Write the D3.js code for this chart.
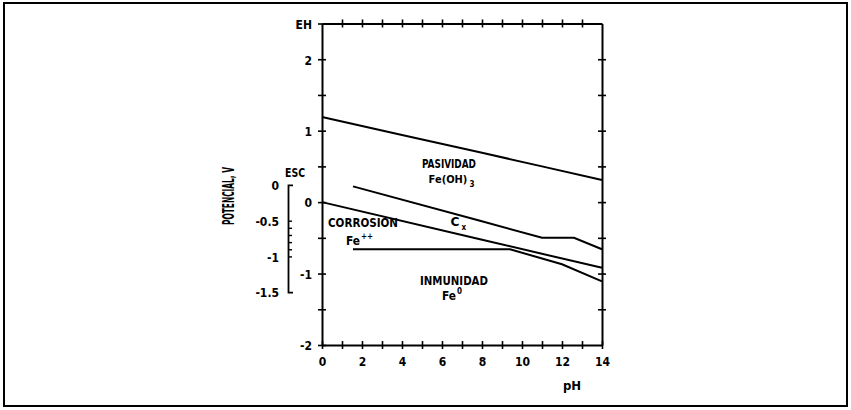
<!DOCTYPE html>
<html>
<head>
<meta charset="utf-8">
<script src="https://cdn.jsdelivr.net/npm/d3@7"></script>
<style>
  body { margin: 0; background: #fff; }
  svg text { font-family: "Liberation Sans Narrow", "DejaVu Sans Condensed", sans-serif; font-weight: bold; fill: #000; }
</style>
</head>
<body>
<div id="chart"></div>
<script>
let width = 851;
let height = 410;

// boundary lines of the Pourbaix diagram, [pH, E (V vs EH)]
let passivityLine = [[0, 1.19], [4, 0.94], [8, 0.69], [11, 0.50], [14, 0.31]];
let cxUpperLine = [[1.55, 0.22], [7.9, -0.26], [11, -0.50], [12.6, -0.50], [14, -0.66]];
let corrosionLine = [[0, 0], [7.9, -0.52], [14, -0.92]];
let immunityLine = [[1.55, -0.66], [9.4, -0.66], [12, -0.87], [14, -1.11]];

// ticks
let phTicks = d3.range(0, 15, 1);
let ehTicks = d3.range(-2, 2.51, 0.5);
let escTicks = [0, -0.5, -0.6, -0.7, -0.8, -0.9, -1, -1.5];
let escLabels = [0, -0.5, -1, -1.5];
let scOffset = 0.24; // ESC = EH - 0.24

let svg = d3.select("#chart").append("svg")
    .attr("width", width)
    .attr("height", height);

// outer frame
svg.append("rect")
    .attr("x", 4).attr("y", 3)
    .attr("width", 843).attr("height", 403)
    .attr("fill", "none")
    .attr("stroke", "#000")
    .attr("stroke-width", 2);

let x = d3.scaleLinear().domain([0, 14]).range([322, 602]);
let y = d3.scaleLinear().domain([-2, 2.5]).range([345, 23.5]);
let yEsc = d3.scaleLinear().domain([-1.5, 0]).range([y(-1.5 + scOffset), y(0 + scOffset)]);

let fmt = d => String(d).replace("\u2212", "-");

// make tick lines cross the axis line (like the + marks in the original)
function crossTicks(g, dir, len) {
    g.selectAll(".tick line").each(function() {
        let l = d3.select(this);
        if (dir == "v") l.attr("y1", -len).attr("y2", len);
        else l.attr("x1", -len).attr("x2", len);
    });
    g.select(".domain").attr("stroke-width", 2);
    g.selectAll(".tick line").attr("stroke-width", 1.6);
}

// bottom axis (pH)
let gBottom = svg.append("g")
    .attr("transform", `translate(0,${y(-2)})`)
    .call(d3.axisBottom(x).tickValues(phTicks).tickSize(4).tickSizeOuter(0).tickPadding(8)
        .tickFormat(d => d % 2 == 0 ? fmt(d) : ""));
crossTicks(gBottom, "v", 4);

// top axis
let gTop = svg.append("g")
    .attr("transform", `translate(0,${y(2.5)})`)
    .call(d3.axisTop(x).tickValues(phTicks.slice(1, -1)).tickSize(4).tickSizeOuter(0).tickFormat(""));
crossTicks(gTop, "v", 4);

// left axis (EH)
let gLeft = svg.append("g")
    .attr("transform", `translate(${x(0)},0)`)
    .call(d3.axisLeft(y).tickValues(ehTicks).tickSize(4).tickSizeOuter(0).tickPadding(6)
        .tickFormat(d => d == 2.5 ? "EH" : (Number.isInteger(d) ? fmt(d) : "")));
crossTicks(gLeft, "h", 4);

// right axis
let gRight = svg.append("g")
    .attr("transform", `translate(${x(14)},0)`)
    .call(d3.axisRight(y).tickValues(ehTicks.slice(1, -1)).tickSize(4).tickSizeOuter(0).tickFormat(""));
crossTicks(gRight, "h", 4);

svg.selectAll(".tick text").style("font-size", "12px");
gLeft.selectAll(".tick text").attr("dy", "0.4em");

// secondary ESC scale with bracket
let gEsc = svg.append("g")
    .attr("transform", "translate(288,0)")
    .call(d3.axisLeft(yEsc).tickValues(escTicks).tickSizeInner(-4).tickSizeOuter(-5).tickPadding(9)
        .tickFormat(d => escLabels.includes(d) ? fmt(d) : ""));
gEsc.select(".domain").attr("stroke-width", 1.8);
gEsc.selectAll(".tick line").attr("stroke-width", 1.4);
gEsc.selectAll(".tick text").style("font-size", "12px").attr("dy", "0.4em");
gEsc.selectAll(".tick").filter(d => d == 0 || d == -1.5).select("line").remove();

svg.append("text")
    .attr("x", 285).attr("y", 177)
    .attr("textLength", 20)
    .attr("lengthAdjust", "spacingAndGlyphs")
    .style("font-size", "12px")
    .text("ESC");

// rotated axis title
svg.append("text")
    .attr("transform", "translate(234,196) rotate(-90)")
    .attr("text-anchor", "middle")
    .attr("textLength", 58)
    .attr("lengthAdjust", "spacingAndGlyphs")
    .style("font-size", "15px")
    .text("POTENCIAL, V");

// pH title
svg.append("text")
    .attr("x", 572).attr("y", 390)
    .attr("text-anchor", "middle")
    .style("font-size", "13px")
    .text("pH");

// boundary lines
let line = d3.line().x(d => x(d[0])).y(d => y(d[1]));
[passivityLine, cxUpperLine, corrosionLine, immunityLine].forEach(pts => {
    svg.append("path")
        .attr("d", line(pts))
        .attr("fill", "none")
        .attr("stroke", "#000")
        .attr("stroke-width", 2);
});

// region labels; sub/superscripts are separate texts placed after the main one
// len = squeezed width, or null to keep natural width at a smaller size
function label(px, e, txt, len, sub, sup) {
    let t = svg.append("text")
        .attr("x", x(px)).attr("y", y(e))
        .attr("text-anchor", "middle")
        .style("font-size", len ? "13px" : "11px")
        .text(txt);
    if (len) t.attr("textLength", len).attr("lengthAdjust", "spacingAndGlyphs");
    let w = len || t.node().getComputedTextLength();
    let right = x(px) + w / 2 + 2;
    if (sub) svg.append("text")
        .attr("x", right).attr("y", y(e) + 4)
        .style("font-size", "8px")
        .text(sub);
    if (sup) svg.append("text")
        .attr("x", right - 1).attr("y", y(e) - 6)
        .style("font-size", "8px")
        .text(sup);
    return t;
}
label(6.35, 0.48, "PASIVIDAD", 54);
label(6.3, 0.27, "Fe(OH)", null, "3");
label(2.05, -0.35, "CORROSION", 70);
label(1.55, -0.6, "Fe", 14, null, "++");
label(6.65, -0.33, "C", 9, "x");
label(6.6, -1.16, "INMUNIDAD", 68);
label(6.35, -1.37, "Fe", 14, null, "0");
</script>
</body>
</html>
